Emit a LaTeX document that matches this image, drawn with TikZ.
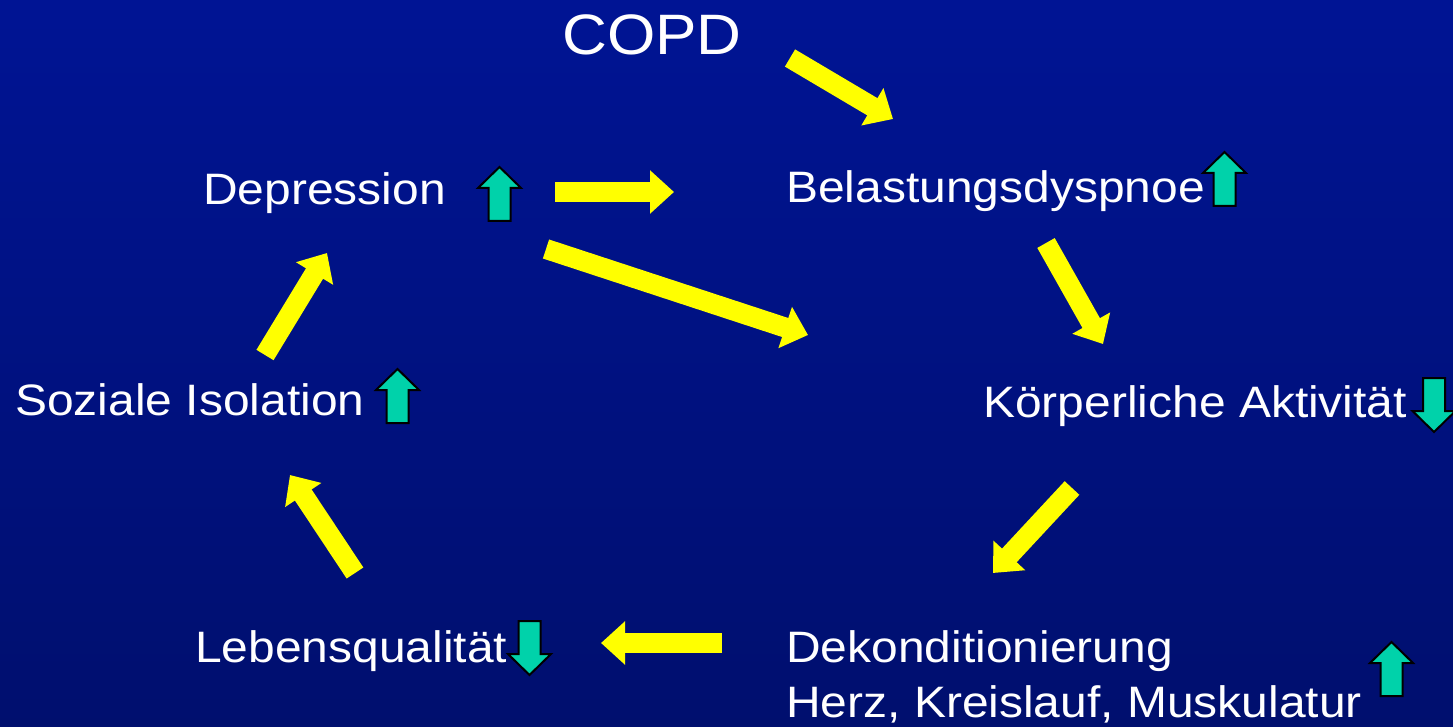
\documentclass[tikz,border=0pt]{standalone}
\usepackage{fontspec}
\setmainfont[FakeStretch=1.09]{Liberation Sans}
\usetikzlibrary{arrows.meta}
\definecolor{bgtop}{RGB}{0,20,148}
\definecolor{bgbot}{RGB}{0,15,110}
\definecolor{yarr}{RGB}{255,255,0}
\definecolor{garr}{RGB}{0,210,170}
\tikzset{
  lbl/.style={anchor=base west, inner sep=0pt, text=white, font=\fontsize{44}{55}\selectfont},
  yarrow/.style={draw=yarr, line width=20pt, -{Triangle[length=24pt,width=42pt,fill=yarr]}},
  gshape/.style={fill=garr, draw=black, line width=2pt, line join=miter},
  gup/.pic={\path[gshape] (-11,0) -- (11,0) -- (11,-33) -- (21.5,-33) -- (0,-54) -- (-21.5,-33) -- (-11,-33) -- cycle;},
  gdown/.pic={\path[gshape] (-11,0) -- (11,0) -- (11,33) -- (21.5,33) -- (0,54) -- (-21.5,33) -- (-11,33) -- cycle;}
}
\begin{document}
\begin{tikzpicture}[x=1pt,y=-1pt]
\shade[top color=bgtop, bottom color=bgbot] (0,0) rectangle (1453,727);
\useasboundingbox (0,0) rectangle (1453,727);
% labels
\node[lbl, font=\fontsize{57}{66}\selectfont] (copd) at (562,55) {COPD};
\node[lbl] (dep) at (203,205) {Depression};
\node[lbl] (bel) at (786,203) {Belastungsdyspnoe};
\node[lbl] (soz) at (15,415) {Soziale Isolation};
\node[lbl] (koe) at (983,417) {Körperliche Aktivität};
\node[lbl] (leb) at (195,662) {Lebensqualität};
\node[lbl] (dek) at (786,662) {Dekonditionierung};
\node[lbl] (dek2) at (786,717) {Herz, Kreislauf, Muskulatur};
% green indicators
\pic (gdep) at (499.5,221) {gup};
\pic (gbel) at (1224.5,206) {gup};
\pic (gkoe) at (1434,378) {gdown};
\pic (gsoz) at (397.5,423) {gup};
\pic (gleb) at (529.5,621) {gdown};
\pic (gdek) at (1391.5,696) {gup};
% arrow end points
\coordinate (a1s) at (790,58);   \coordinate (a1e) at (893,119);
\coordinate (a2s) at (555,192);  \coordinate (a2e) at (674,192);
\coordinate (a3s) at (546,249);  \coordinate (a3e) at (808,335);
\coordinate (a4s) at (1046,243); \coordinate (a4e) at (1103,344);
\coordinate (a5s) at (1072,488); \coordinate (a5e) at (993,573);
\coordinate (a6s) at (722,643);  \coordinate (a6e) at (601,643);
\coordinate (a7s) at (355,573);  \coordinate (a7e) at (290,475);
\coordinate (a8s) at (265,355);  \coordinate (a8e) at (327,253);
\draw[yarrow] (a1s) -- (a1e);
\draw[yarrow] (a2s) -- (a2e);
\draw[yarrow] (a3s) -- (a3e);
\draw[yarrow] (a4s) -- (a4e);
\draw[yarrow] (a5s) -- (a5e);
\draw[yarrow] (a6s) -- (a6e);
\draw[yarrow] (a7s) -- (a7e);
\draw[yarrow] (a8s) -- (a8e);
\end{tikzpicture}
\end{document}
